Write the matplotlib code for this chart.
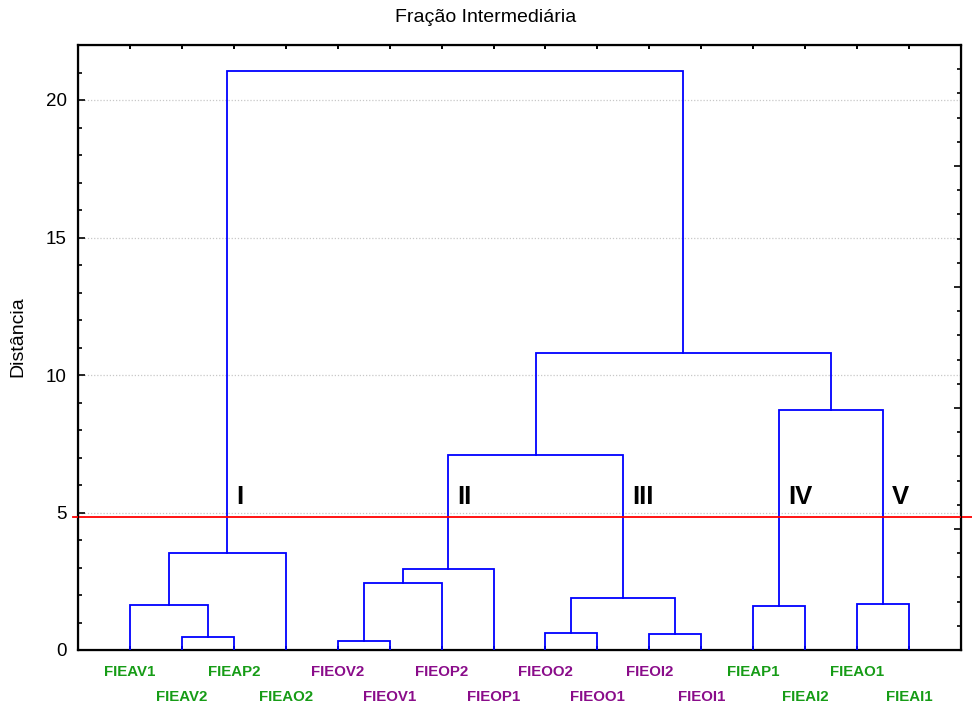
import matplotlib
matplotlib.use("Agg")
import matplotlib.pyplot as plt
import matplotlib.transforms as mtransforms
from matplotlib.ticker import MultipleLocator

plt.rcParams['font.family'] = ['Liberation Sans', 'DejaVu Sans']

# leaves in plotting order
leaf_labels = ['FIEAV1', 'FIEAV2', 'FIEAP2', 'FIEAO2',
               'FIEOV2', 'FIEOV1', 'FIEOP2', 'FIEOP1',
               'FIEOO2', 'FIEOO1', 'FIEOI2', 'FIEOI1',
               'FIEAP1', 'FIEAI2', 'FIEAO1', 'FIEAI1']
leaf_groups = ['A', 'A', 'A', 'A', 'O', 'O', 'O', 'O',
               'O', 'O', 'O', 'O', 'A', 'A', 'A', 'A']

# joins: (left node, right node, linkage distance); new nodes numbered from 16
merge_left = [1, 0, 17, 4, 19, 20, 8, 10, 22, 21, 12, 14, 26, 25, 18]
merge_right = [2, 16, 3, 5, 6, 7, 9, 11, 23, 24, 13, 15, 27, 28, 29]
merge_height = [0.46, 1.64, 3.54, 0.34, 2.44, 2.96, 0.62, 0.58, 1.88,
                7.10, 1.61, 1.68, 8.74, 10.80, 21.05]

cut_height = 4.83
cluster_names = ['I', 'II', 'III', 'IV', 'V']
cluster_nodes = [18, 21, 24, 26, 27]

group_colors = {'A': '#169c16', 'O': '#8a0c8a'}

fig = plt.figure(figsize=(9.72, 7.07), dpi=100)
ax = fig.add_axes([78 / 972, 57 / 707, 883 / 972, 605 / 707])

n = len(leaf_labels)
node_x = {i: i + 1 for i in range(n)}
node_y = {i: 0.0 for i in range(n)}
for k, (a, b, h) in enumerate(zip(merge_left, merge_right, merge_height)):
    xa, xb = node_x[a], node_x[b]
    ax.plot([xa, xa, xb, xb], [node_y[a], h, h, node_y[b]],
            color='#0000ff', lw=1.3, solid_joinstyle='miter', zorder=3)
    node_x[n + k] = (xa + xb) / 2
    node_y[n + k] = h

ax.set_xlim(0, n + 1)
ax.set_ylim(0, 22)

# cut line, running a little past both axis edges
ax.plot([-0.006, 1.0125], [cut_height, cut_height], color='#ff0000', lw=1.3,
        transform=mtransforms.blended_transform_factory(ax.transAxes, ax.transData),
        clip_on=False, zorder=4)

for name, node in zip(cluster_names, cluster_nodes):
    ax.text(node_x[node] + 0.17, cut_height + 0.28, name, fontsize=18.5,
            fontweight='bold', ha='left', va='bottom', color='black')

# y axis
ax.yaxis.set_major_locator(MultipleLocator(5))
ax.yaxis.set_minor_locator(MultipleLocator(1))
ax.grid(axis='y', which='major', color='#c8c8c8', linestyle=(0, (1, 1.5)), lw=0.9)
ax.tick_params(axis='y', which='major', direction='in', length=5, width=1.2,
               labelsize=13.5, pad=8)
ax.tick_params(axis='y', which='minor', direction='in', length=3, width=1.2)
ax.set_yticks([0, 5, 10, 15, 20])

# leaf ticks top and bottom, labels drawn separately in two rows
ax.set_xticks(range(1, n + 1))
ax.tick_params(axis='x', which='both', direction='in', length=3, width=1.4,
               labelbottom=False, top=True)
ax.xaxis.set_minor_locator(plt.NullLocator())

lab_trans = mtransforms.blended_transform_factory(ax.transData, ax.transAxes)
for i, (lab, grp) in enumerate(zip(leaf_labels, leaf_groups)):
    off = -22 if i % 2 == 0 else -47
    ax.annotate(lab, xy=(i + 1, 0), xycoords=lab_trans,
                xytext=(0, off * 0.72), textcoords='offset points',
                ha='center', va='center', fontsize=10.8, fontweight='bold',
                color=group_colors[grp], annotation_clip=False)

for s in ax.spines.values():
    s.set_linewidth(1.6)

# right axis scaled in percent of the full height
axr = ax.twinx()
axr.set_ylim(0, 100)
axr.yaxis.set_major_locator(MultipleLocator(20))
axr.yaxis.set_minor_locator(MultipleLocator(4))
axr.tick_params(axis='y', which='major', direction='in', length=5, width=1.2,
                labelright=False)
axr.tick_params(axis='y', which='minor', direction='in', length=3, width=1.2)

fig.text(0.5, 1 - 18 / 707, 'Fração Intermediária', ha='center', va='center',
         fontsize=14)
fig.text(18 / 972, 1 - 337 / 707, 'Distância', rotation=90, ha='center',
         va='center', fontsize=14)

fig.savefig('out.png', dpi=100)
